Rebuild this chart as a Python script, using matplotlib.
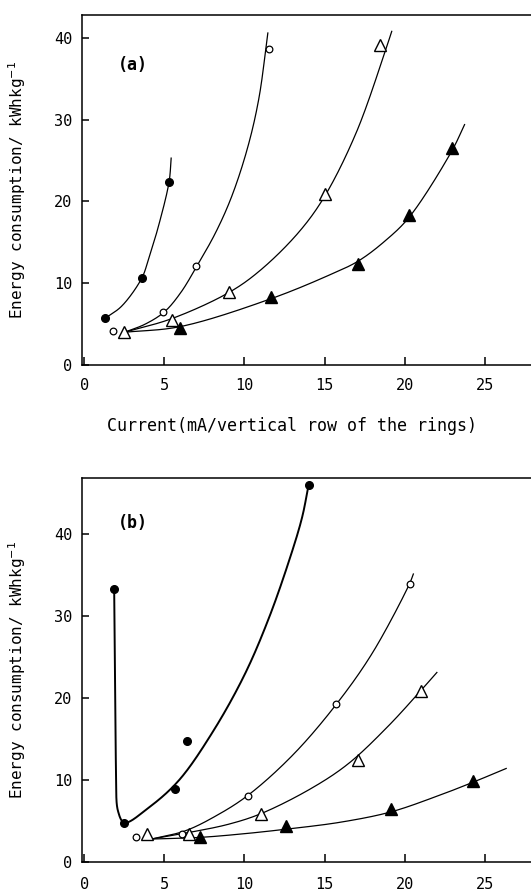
import numpy as np
import matplotlib
matplotlib.use("Agg")
import matplotlib.pyplot as plt

plt.rcParams["font.family"] = ["DejaVu Sans Mono"]
plt.rcParams["mathtext.fontset"] = "dejavusans"

# ---- panel (a): measured points ----
a_fc_x = [1.29, 3.58, 5.29]
a_fc_y = [5.7, 10.6, 22.4]
a_oc_x = [1.81, 4.94, 6.98, 11.54]
a_oc_y = [4.1, 6.5, 12.1, 38.7]
a_ot_x = [2.5, 5.46, 9.06, 15.04, 18.48]
a_ot_y = [4.0, 5.5, 8.9, 20.9, 39.1]
a_ft_x = [5.98, 11.65, 17.08, 20.29, 22.96]
a_ft_y = [4.5, 8.3, 12.4, 18.3, 26.5]

# panel (a): hand-drawn fit lines (knots)
a_fc_line_x = [1.29, 2.33, 3.58, 4.0, 4.63, 5.29, 5.42]
a_fc_line_y = [5.7, 7.2, 10.6, 12.9, 17.0, 22.4, 25.3]
a_oc_line_x = [2.5, 3.8, 5.0, 6.0, 7.0, 8.2, 9.2, 10.2, 10.9, 11.46]
a_oc_line_y = [4.0, 5.0, 6.5, 8.8, 12.0, 16.2, 20.6, 26.6, 32.6, 40.6]
a_ot_line_x = [2.5, 5.5, 9.06, 11.0, 13.375, 15.0, 17.0, 18.83, 19.2]
a_ot_line_y = [4.0, 5.7, 8.9, 11.6, 16.2, 20.6, 28.5, 38.6, 40.8]
a_ft_line_x = [2.5, 6.0, 11.65, 15.3, 17.1, 18.8, 20.3, 22.96, 23.75]
a_ft_line_y = [4.0, 4.7, 8.1, 11.0, 12.7, 15.2, 18.1, 26.2, 29.4]

# ---- panel (b): measured points ----
b_fc_x = [1.86, 2.5, 5.63, 6.4, 14.0]
b_fc_y = [33.3, 4.8, 8.9, 14.8, 45.9]
b_oc_x = [3.21, 6.08, 10.19, 15.73, 20.31]
b_oc_y = [3.0, 3.4, 8.0, 19.2, 33.9]
b_ot_x = [3.94, 6.54, 11.04, 17.08, 21.02]
b_ot_y = [3.4, 3.4, 5.8, 12.4, 20.9]
b_ft_x = [7.23, 12.6, 19.14, 24.25]
b_ft_y = [3.0, 4.4, 6.4, 9.9]

b_fc_line_x = [1.86, 1.93, 1.98, 2.1, 2.5, 4.0, 5.88, 8.0, 10.0, 11.5, 12.8, 13.6, 14.0]
b_fc_line_y = [33.3, 20.0, 11.0, 6.2, 4.8, 6.6, 9.9, 15.8, 22.8, 29.6, 36.8, 42.0, 45.9]
b_oc_line_x = [4.2, 6.3, 8.2, 10.2, 13.0, 15.73, 18.0, 20.31, 20.55]
b_oc_line_y = [2.8, 3.8, 5.6, 8.1, 13.0, 19.2, 25.5, 33.9, 35.1]
b_ot_line_x = [4.2, 6.54, 9.0, 11.04, 14.2, 16.5, 19.0, 21.02, 22.02]
b_ot_line_y = [2.8, 3.6, 4.6, 5.9, 9.0, 12.0, 16.6, 20.9, 23.1]
b_ft_line_x = [4.2, 7.23, 10.0, 12.6, 16.0, 19.14, 22.0, 24.25, 26.35]
b_ft_line_y = [2.8, 3.0, 3.45, 4.0, 4.85, 6.1, 8.0, 9.7, 11.4]

x_ticks = [0, 5, 10, 15, 20, 25]
y_ticks = [0, 10, 20, 30, 40]


def smooth(xs, ys, n=40, sx=16.0, sy=8.2):
    # centripetal Catmull-Rom through the knots (done in pixel-like units)
    P = np.column_stack([np.asarray(xs) * sx, np.asarray(ys) * sy])
    P = np.vstack([2 * P[0] - P[1], P, 2 * P[-1] - P[-2]])
    out = []
    for i in range(1, len(P) - 2):
        p0, p1, p2, p3 = P[i - 1:i + 3]
        t0 = 0.0
        t1 = t0 + np.linalg.norm(p1 - p0) ** 0.5
        t2 = t1 + np.linalg.norm(p2 - p1) ** 0.5
        t3 = t2 + np.linalg.norm(p3 - p2) ** 0.5
        t = np.linspace(t1, t2, n)[:, None]
        A1 = (t1 - t) / (t1 - t0) * p0 + (t - t0) / (t1 - t0) * p1
        A2 = (t2 - t) / (t2 - t1) * p1 + (t - t1) / (t2 - t1) * p2
        A3 = (t3 - t) / (t3 - t2) * p2 + (t - t2) / (t3 - t2) * p3
        B1 = (t2 - t) / (t2 - t0) * A1 + (t - t0) / (t2 - t0) * A2
        B2 = (t3 - t) / (t3 - t1) * A2 + (t - t1) / (t3 - t1) * A3
        out.append((t2 - t) / (t2 - t1) * B1 + (t - t1) / (t2 - t1) * B2)
    C = np.vstack(out)
    return C[:, 0] / sx, C[:, 1] / sy


def style(ax, ymax, xpad):
    ax.set_xlim(-0.15, 27.9)
    ax.set_ylim(0, ymax)
    ax.set_xticks(x_ticks)
    ax.set_yticks(y_ticks)
    ax.spines["right"].set_visible(False)
    for s in ("left", "bottom", "top"):
        ax.spines[s].set_linewidth(1.1)
    ax.tick_params(axis="x", direction="in", length=6, width=1.1, pad=xpad, labelsize=11)
    ax.tick_params(axis="y", direction="in", length=5, width=1.1, pad=7, labelsize=11)
    ax.set_ylabel("Energy consumption/ kWhkg$^{-1}$", fontsize=11.5)
    ax.yaxis.set_label_coords(-0.12, 0.5)


def draw(ax, lines, pts, fc_lw=0.9):
    for k, (lx, ly) in enumerate(lines):
        sx, sy = smooth(lx, ly)
        ax.plot(sx, sy, color="black", lw=fc_lw if k == 0 else 0.9)
    (fcx, fcy), (ocx, ocy), (otx, oty), (ftx, fty) = pts
    ax.plot(fcx, fcy, "o", ms=5.5, color="black", zorder=5)
    ax.plot(ocx, ocy, "o", ms=4.8, mfc="white", mec="black", mew=0.9, zorder=5)
    ax.plot(otx, oty, "^", ms=8, mfc="white", mec="black", mew=1.0, zorder=5)
    ax.plot(ftx, fty, "^", ms=8, color="black", zorder=5)


fig = plt.figure(figsize=(5.31, 8.93), dpi=100)
ax1 = fig.add_axes([82 / 531, 1 - 365 / 893, 449 / 531, 350 / 893])
ax2 = fig.add_axes([82 / 531, 1 - 862 / 893, 449 / 531, 384 / 893])

draw(ax1,
     [(a_fc_line_x, a_fc_line_y), (a_oc_line_x, a_oc_line_y),
      (a_ot_line_x, a_ot_line_y), (a_ft_line_x, a_ft_line_y)],
     [(a_fc_x, a_fc_y), (a_oc_x, a_oc_y), (a_ot_x, a_ot_y), (a_ft_x, a_ft_y)])
style(ax1, 42.8, 9)
ax1.text(2.1, 36.7, "(a)", fontsize=12, fontweight="bold", va="center")

draw(ax2,
     [(b_fc_line_x, b_fc_line_y), (b_oc_line_x, b_oc_line_y),
      (b_ot_line_x, b_ot_line_y), (b_ft_line_x, b_ft_line_y)],
     [(b_fc_x, b_fc_y), (b_oc_x, b_oc_y), (b_ot_x, b_ot_y), (b_ft_x, b_ft_y)],
     fc_lw=1.4)
style(ax2, 46.8, 11)
ax2.text(2.1, 41.3, "(b)", fontsize=12, fontweight="bold", va="center")

fig.text(292 / 531, 1 - 426 / 893, "Current(mA/vertical row of the rings)",
         fontsize=12, ha="center", va="center")

fig.savefig("out.png", dpi=100)
